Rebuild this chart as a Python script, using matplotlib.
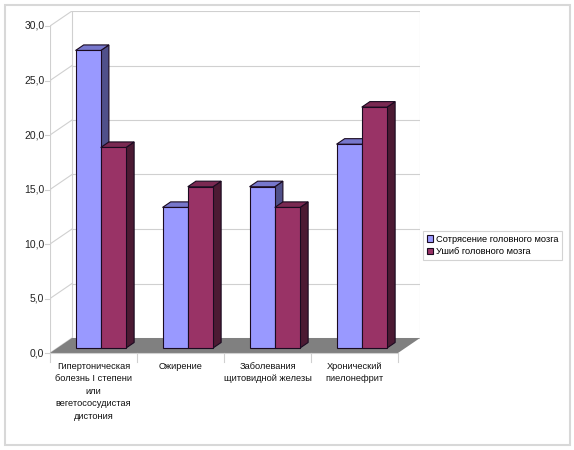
import numpy as np
import matplotlib.pyplot as plt
from matplotlib.patches import Polygon, FancyBboxPatch

plt.rcParams['font.family'] = ['Liberation Sans', 'DejaVu Sans']

categories = ['Гипертоническая\nболезнь I степени\nили\nвегетососудистая\nдистония',
              'Ожирение',
              'Заболевания\nщитовидной железы',
              'Хронический\nпиелонефрит']
series_names = ['Сотрясение головного мозга', 'Ушиб головного мозга']
concussion = [27.3, 12.9, 14.8, 18.7]
contusion = [18.4, 14.8, 12.9, 22.1]
yticks = [0, 5, 10, 15, 20, 25, 30]

# face / side / top colours per series
colors = [('#9999ff', '#50508a', '#7777cc'),
          ('#993366', '#4c1a33', '#7a2952')]

fig = plt.figure(figsize=(5.74, 4.5), dpi=100)
fig.patches.append(FancyBboxPatch((5 / 574, 5 / 450), 565 / 574, 440 / 450,
                                  boxstyle='square,pad=0', transform=fig.transFigure,
                                  fill=False, ec='#d8d8d8', lw=1.5))

ax = fig.add_axes([50 / 574, 1 - 353 / 450, 370 / 574, 342 / 450])
n = len(categories)
ymax = 30
# depth of the 3d box, in data units
DX, DY = 22 / 87, 15 / 10.9
ax.set_xlim(0, n + DX)
ax.set_ylim(0, ymax + DY)
ax.axis('off')

grid_c = '#d0d0d0'
# walls + gridlines
for v in yticks:
    ax.plot([DX, n + DX], [v + DY, v + DY], color=grid_c, lw=0.8, zorder=1)
    ax.plot([0, DX], [v, v + DY], color=grid_c, lw=0.8, zorder=1)
ax.plot([DX, DX], [DY, ymax + DY], color=grid_c, lw=0.8, zorder=1)
ax.plot([n + DX, n + DX], [DY, ymax + DY], color=grid_c, lw=0.8, zorder=1)
ax.plot([0, 0], [0, ymax], color=grid_c, lw=0.8, zorder=1)

# floor
ax.add_patch(Polygon([(0, 0), (n, 0), (n + DX, DY), (DX, DY)],
                     closed=True, fc='#808080', ec='none', zorder=2))
ax.plot([0, n], [0, 0], color=grid_c, lw=0.8, zorder=2, clip_on=False)

# y tick marks and labels
for v in yticks:
    ax.plot([-0.06, 0], [v, v], color=grid_c, lw=0.8, clip_on=False)
    ax.text(-0.065, v, f'{v:.1f}'.replace('.', ','), ha='right', va='center',
            fontsize=7.5, color='#222222')

# category separators and labels
for i in range(n + 1):
    ax.plot([i, i], [0, -0.85], color=grid_c, lw=0.8, clip_on=False)
for i, lab in enumerate(categories):
    ax.text(i + 0.5, -0.8, lab, ha='center', va='top', fontsize=6.7,
            linespacing=1.5, color='#111111')

# bars
bw = 0.29
z0, zd = 0.33, 0.37
ox, oy = DX * z0, DY * z0
bx, by = DX * zd, DY * zd
for i in range(n):
    for s, vals in enumerate([concussion, contusion]):
        face, side, top = colors[s]
        x0 = i + 0.5 - bw + s * bw + ox
        x1 = x0 + bw
        y0 = oy
        y1 = vals[i] + oy
        zo = 3 + i * 2 + s
        ax.add_patch(Polygon([(x1, y0), (x1 + bx, y0 + by), (x1 + bx, y1 + by), (x1, y1)],
                             closed=True, fc=side, ec='#1a0a20', lw=0.8, zorder=zo))
        ax.add_patch(Polygon([(x0, y1), (x1, y1), (x1 + bx, y1 + by), (x0 + bx, y1 + by)],
                             closed=True, fc=top, ec='#1a0a20', lw=0.8, zorder=zo))
        ax.add_patch(Polygon([(x0, y0), (x1, y0), (x1, y1), (x0, y1)],
                             closed=True, fc=face, ec='#1a0a20', lw=0.8, zorder=zo))

# legend
handles = [plt.Rectangle((0, 0), 1, 1, fc=c[0], ec='#1a0a20', lw=0.8) for c in colors]
leg = fig.legend(handles, series_names, loc='upper left',
                 bbox_to_anchor=(423 / 574, 1 - 231 / 450), fontsize=6.7,
                 frameon=True, fancybox=False, edgecolor='#c8c8c8',
                 handlelength=0.7, handleheight=0.7, handletextpad=0.3,
                 borderpad=0.4, labelspacing=0.4, borderaxespad=0)
leg.get_frame().set_linewidth(0.8)

fig.savefig('out.png', dpi=100)
